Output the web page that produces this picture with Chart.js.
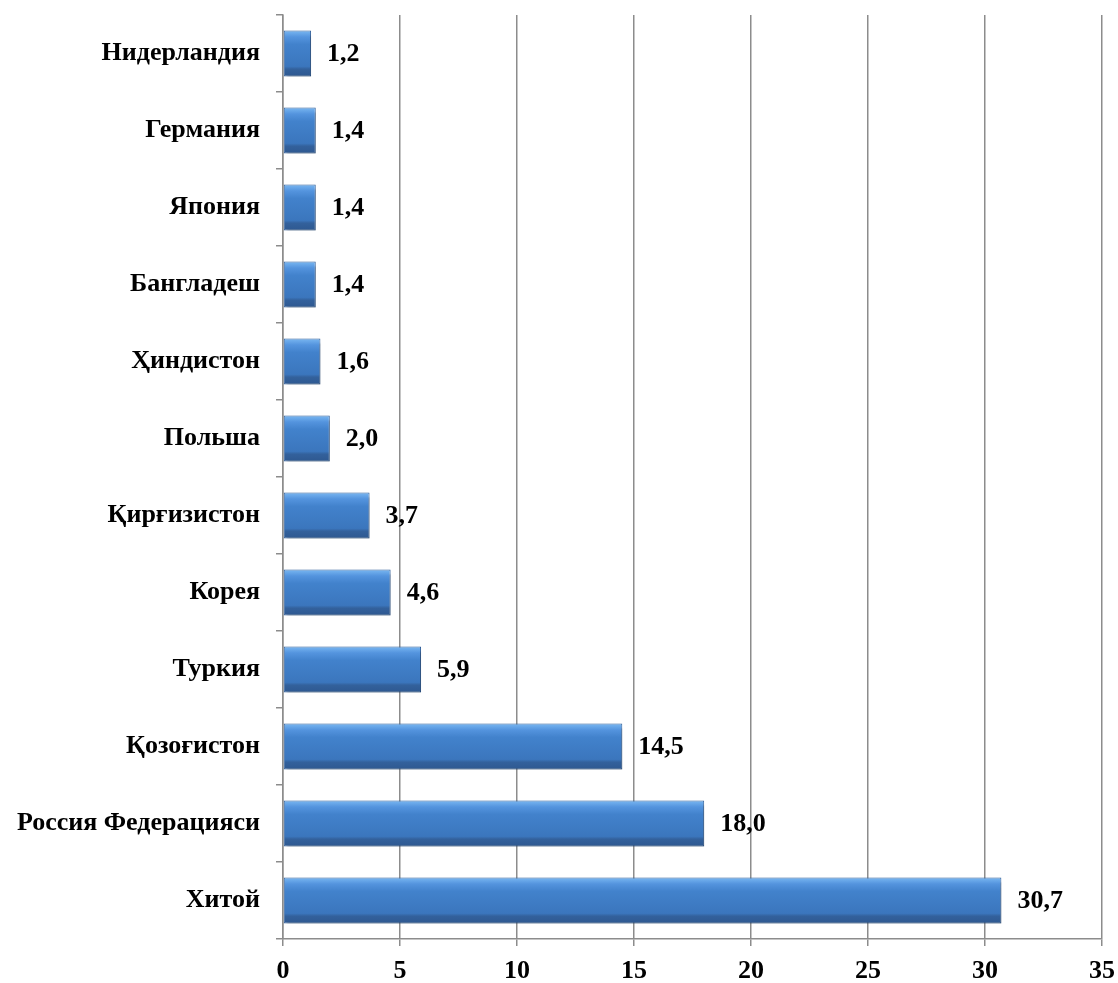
<!DOCTYPE html>
<html>
<head>
<meta charset="utf-8">
<script src="https://cdn.jsdelivr.net/npm/chart.js@4.4.1/dist/chart.umd.min.js"></script>
<style>
  html, body { margin: 0; padding: 0; background: #fff; }
  #wrap { width: 1118px; height: 983px; }
</style>
</head>
<body>
<div id="wrap"><canvas id="chart"></canvas></div>
<script>
// data
const countries = ['Нидерландия', 'Германия', 'Япония', 'Бангладеш', 'Ҳиндистон', 'Польша',
  'Қирғизистон', 'Корея', 'Туркия', 'Қозоғистон', 'Россия Федерацияси', 'Хитой'];
const shares = [1.2, 1.4, 1.4, 1.4, 1.6, 2.0, 3.7, 4.6, 5.9, 14.5, 18.0, 30.7];
const xTicks = [0, 5, 10, 15, 20, 25, 30, 35];

const FONT = '"Liberation Serif", "Times New Roman", serif';

// bar gradient, top light -> bottom dark
function barGradient(context) {
  const chart = context.chart;
  const { ctx, chartArea, scales } = chart;
  if (!chartArea) return '#4080c8';
  const yc = scales.y.getPixelForValue(context.dataIndex);
  const half = 23;
  const g = ctx.createLinearGradient(0, yc - half, 0, yc + half);
  g.addColorStop(0, '#7ab8f2');
  g.addColorStop(0.14, '#5494de');
  g.addColorStop(0.3, '#4282cc');
  g.addColorStop(0.78, '#3b76bd');
  g.addColorStop(0.84, '#33619c');
  g.addColorStop(1, '#2e5890');
  return g;
}

// shadow under bars
const barShadow = {
  id: 'barShadow',
  beforeDatasetDraw(chart) {
    const ctx = chart.ctx;
    ctx.save();
    ctx.shadowColor = 'rgba(0,0,0,0.2)';
    ctx.shadowOffsetX = 3;
    ctx.shadowOffsetY = 5;
    ctx.shadowBlur = 2;
  },
  afterDatasetDraw(chart) {
    chart.ctx.restore();
  }
};

// value labels to the right of bars
const valueLabels = {
  id: 'valueLabels',
  afterDatasetsDraw(chart) {
    const ctx = chart.ctx;
    const meta = chart.getDatasetMeta(0);
    ctx.save();
    ctx.fillStyle = '#000';
    ctx.font = 'bold 26px ' + FONT;
    ctx.textAlign = 'left';
    ctx.textBaseline = 'middle';
    meta.data.forEach((bar, i) => {
      const txt = shares[i].toFixed(1).replace('.', ',');
      ctx.fillText(txt, bar.x + 16, bar.y + 1);
    });
    ctx.restore();
  }
};

new Chart(document.getElementById('chart'), {
  type: 'bar',
  data: {
    labels: countries,
    datasets: [{
      data: shares,
      backgroundColor: barGradient,
      borderColor: '#2f5e99',
      borderWidth: 1,
      borderSkipped: false,
      categoryPercentage: 1,
      barPercentage: 0.6
    }]
  },
  options: {
    indexAxis: 'y',
    responsive: true,
    maintainAspectRatio: false,
    animation: false,
    layout: { padding: { top: 15, right: 16, bottom: 0, left: 0 } },
    plugins: {
      legend: { display: false },
      tooltip: { enabled: false }
    },
    scales: {
      x: {
        min: 0,
        max: 35,
        afterBuildTicks(axis) { axis.ticks = xTicks.map(v => ({ value: v })); },
        afterFit(axis) {
          axis.height = 44;
          axis.paddingLeft = 0;
          axis.paddingRight = 0;
        },
        grid: {
          color: '#8c8c8c',
          lineWidth: 1.5,
          tickLength: 7,
          drawTicks: true
        },
        border: { color: '#8c8c8c', width: 1.5 },
        ticks: {
          color: '#000',
          font: { family: FONT, size: 26, weight: 'bold' },
          padding: 10,
          maxRotation: 0
        }
      },
      y: {
        afterFit(axis) {
          axis.width = 283;
          axis.paddingTop = 0;
          axis.paddingBottom = 0;
        },
        grid: {
          drawOnChartArea: false,
          drawTicks: true,
          tickLength: 7,
          offset: true,
          color: '#8c8c8c',
          lineWidth: 1.5
        },
        border: { color: '#8c8c8c', width: 1.5 },
        ticks: {
          color: '#000',
          font: { family: FONT, size: 26, weight: 'bold' },
          padding: 16
        }
      }
    }
  },
  plugins: [barShadow, valueLabels]
});
</script>
</body>
</html>
